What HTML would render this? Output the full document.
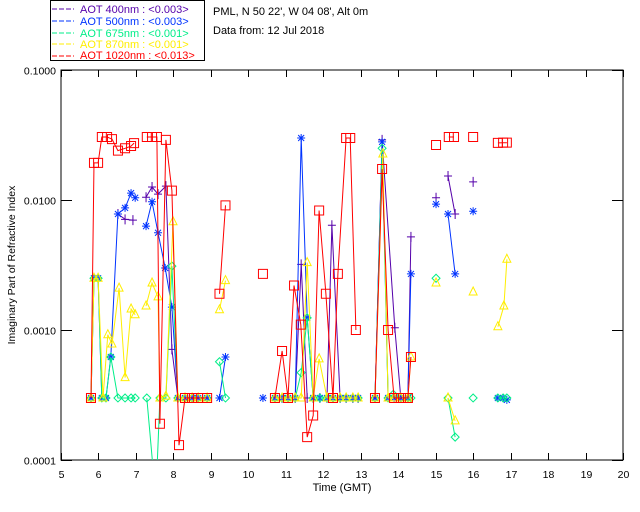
<!DOCTYPE html>
<html><head><meta charset="utf-8"><style>
body{margin:0;background:#fff;}
svg{display:block;font-family:"Liberation Sans",sans-serif;}
</style></head><body>
<svg id="chart" width="640" height="512" viewBox="0 0 640 512" xmlns="http://www.w3.org/2000/svg">
<rect x="0" y="0" width="640" height="512" fill="#fff"/>
<g font-size="11">
<rect x="50.5" y="0.5" width="154" height="60" fill="none" stroke="#000"/>
<g><line x1="52" y1="9" x2="74" y2="9" stroke="#5500aa" stroke-dasharray="5,2"/><text x="80" y="13" fill="#5500aa">AOT  400nm : &lt;0.003&gt;</text></g>
<g><line x1="52" y1="21" x2="74" y2="21" stroke="#0033ff" stroke-dasharray="5,2"/><text x="80" y="25" fill="#0033ff">AOT  500nm : &lt;0.003&gt;</text></g>
<g><line x1="52" y1="33" x2="74" y2="33" stroke="#00ee88" stroke-dasharray="5,2"/><text x="80" y="37" fill="#00ee88">AOT  675nm : &lt;0.001&gt;</text></g>
<g><line x1="52" y1="44" x2="74" y2="44" stroke="#ffee00" stroke-dasharray="5,2"/><text x="80" y="48" fill="#ffee00">AOT  870nm : &lt;0.001&gt;</text></g>
<g><line x1="52" y1="56" x2="74" y2="56" stroke="#ff0000" stroke-dasharray="5,2"/><text x="80" y="59" fill="#ff0000">AOT 1020nm : &lt;0.013&gt;</text></g>
</g>
<text x="213" y="15" font-size="11">PML, N 50 22', W 04 08', Alt 0m</text>
<text x="213" y="34" font-size="11">Data from: 12 Jul 2018</text>
<rect x="61" y="70" width="562" height="390" fill="none" stroke="#000"/>
<g id="axes"></g>
<g id="series"></g>
<text x="342" y="491" font-size="11" text-anchor="middle">Time (GMT)</text>
<text transform="translate(15,265) rotate(-90)" font-size="10.5" text-anchor="middle">Imaginary Part of Refractive Index</text>
</svg>
<script>
const xTicks=[5,6,7,8,9,10,11,12,13,14,15,16,17,18,19,20];
const yTicks=[0.1,0.01,0.001,0.0001];
const yTickLabels=["0.1000","0.0100","0.0010","0.0001"];
const t400=[6.52,6.71,6.92,null,7.27,7.43,7.59,7.80,7.96,8.12,null,10.71,10.90,11.06,11.25,11.41,11.57,11.73,11.91,12.10,12.23,12.45,12.61,12.79,12.93,null,13.38,13.57,13.91,14.07,14.26,14.34,null,15.01,null,15.33,15.52,null,16.0];
const v400=[0.0078,0.0071,0.0070,null,0.0105,0.0126,0.0111,0.0128,0.00071,0.0003,null,0.0003,0.0003,0.0003,0.0003,0.0032,0.0003,0.0003,0.0003,0.0003,0.0064,0.0003,0.0003,0.0003,0.0003,null,0.0003,0.029,0.00104,0.0003,0.0003,0.0052,null,0.0104,null,0.0153,0.0078,null,0.0138];
const t500=[5.80,5.88,5.99,6.09,6.20,6.33,6.52,6.71,6.87,6.98,null,7.27,7.43,7.59,7.78,7.96,8.12,8.31,8.50,8.66,8.90,null,9.23,9.39,null,10.39,null,10.71,10.90,11.06,11.25,11.41,11.57,11.73,11.91,12.10,12.26,12.45,12.61,12.79,12.93,null,13.38,13.57,13.73,13.89,14.07,14.26,14.34,null,15.01,null,15.33,15.52,null,16.0,null,16.66,16.80,16.90];
const v500=[0.0003,0.0025,0.0025,0.0003,0.0003,0.00062,0.0078,0.0087,0.0113,0.0104,null,0.0063,0.0097,0.0056,0.0030,0.0015,0.0003,0.0003,0.0003,0.0003,0.0003,null,0.0003,0.00062,null,0.0003,null,0.0003,0.0003,0.0003,0.0003,0.030,0.00124,0.0003,0.0003,0.0003,0.0003,0.0003,0.0003,0.0003,0.0003,null,0.0003,0.028,0.0003,0.0003,0.0003,0.0003,0.0027,null,0.0093,null,0.0078,0.0027,null,0.0082,null,0.0003,0.0003,0.00029];
const t675=[5.80,5.88,5.99,6.09,6.20,6.33,6.52,6.71,6.87,6.98,null,7.29,7.53,7.64,7.80,7.96,8.12,8.31,8.50,8.66,8.90,null,9.23,9.39,null,10.71,10.90,11.06,11.25,11.41,11.57,11.73,11.91,12.10,12.26,12.45,12.61,12.79,12.93,null,13.38,13.57,13.73,13.87,14.07,14.26,14.34,null,15.01,null,15.33,15.52,null,16.0,null,16.66,16.80,16.90];
const v675=[0.0003,0.0025,0.0025,0.0003,0.0003,0.00062,0.0003,0.0003,0.0003,0.0003,null,0.0003,0.00005,0.0003,0.0003,0.0031,0.0003,0.0003,0.0003,0.0003,0.0003,null,0.00057,0.0003,null,0.0003,0.0003,0.0003,0.0003,0.00047,0.00124,0.0003,0.0003,0.0003,0.0003,0.0003,0.0003,0.0003,0.0003,null,0.0003,0.025,0.0003,0.00032,0.0003,0.0003,0.0003,null,0.0025,null,0.0003,0.00015,null,0.0003,null,0.0003,0.0003,0.0003];
const t870=[5.80,5.88,5.99,6.12,6.25,6.36,6.55,6.71,6.87,6.98,null,7.27,7.43,7.59,7.64,7.80,7.99,8.12,8.31,8.50,8.66,8.90,null,9.23,9.39,null,10.71,10.90,11.06,11.25,11.41,11.57,11.73,11.89,12.10,12.26,12.45,12.61,12.79,12.93,null,13.38,13.59,13.73,13.89,14.07,14.26,14.34,null,15.01,null,15.33,15.52,null,16.0,null,16.66,16.82,16.90];
const v870=[0.0003,0.0025,0.0025,0.0003,0.00092,0.00078,0.0021,0.00043,0.00145,0.00131,null,0.00153,0.0023,0.0018,0.0003,0.00031,0.0068,0.0003,0.0003,0.0003,0.0003,0.0003,null,0.00143,0.0024,null,0.0003,0.0003,0.0003,0.0003,0.0003,0.0033,0.0003,0.0006,0.0003,0.0003,0.0003,0.0003,0.0003,0.0003,null,0.0003,0.0226,0.0003,0.0003,0.0003,0.0003,0.00062,null,0.0023,null,0.0003,0.0002,null,0.00196,null,0.00106,0.00153,0.0035];
const t1020=[5.80,5.88,5.99,6.09,6.23,6.36,6.52,6.71,6.87,6.95,null,7.29,7.43,7.56,7.64,7.80,7.96,8.15,8.31,8.50,8.66,8.90,null,9.23,9.39,null,10.39,null,10.71,10.90,11.06,11.22,11.40,11.57,11.73,11.89,12.07,12.26,12.39,12.61,12.72,12.87,null,13.38,13.57,13.73,13.89,14.07,14.26,14.34,null,15.01,null,15.35,15.49,null,16.0,null,16.66,16.80,16.90];
const v1020=[0.0003,0.0193,0.0193,0.0305,0.0305,0.0294,0.024,0.025,0.026,0.0274,null,0.0305,0.0305,0.0305,0.00019,0.029,0.0118,0.00013,0.0003,0.0003,0.0003,0.0003,null,0.0019,0.0091,null,0.0027,null,0.0003,0.00069,0.0003,0.0022,0.0011,0.00015,0.00022,0.0083,0.0019,0.0003,0.0027,0.030,0.030,0.001,null,0.0003,0.0173,0.001,0.0003,0.0003,0.0003,0.00062,null,0.0265,null,0.0305,0.0305,null,0.0305,null,0.0275,0.0276,0.0276];

const X0=61,X1=623,Y0=460,Y1=70;
function xs(h){return X0+(h-5)*(X1-X0)/15;}
function ys(v){return Y1+(-1-Math.log10(v))*(Y0-Y1)/3;}
const NS="http://www.w3.org/2000/svg";
function mk(tag,attrs,parent){const e=document.createElementNS(NS,tag);for(const k in attrs)e.setAttribute(k,attrs[k]);parent.appendChild(e);return e;}
const axes=document.getElementById('axes');
xTicks.forEach(h=>{
  const x=Math.round(xs(h))+0.5;
  const tb=mk('line',{x1:x,y1:Y0,x2:x,y2:Y0-7,stroke:'#000'},axes);
  
  
  const tt=mk('line',{x1:x,y1:Y1,x2:x,y2:Y1+7,stroke:'#000'},axes);
  
  
  const lb=mk('text',{x:x,y:478,'font-size':10.5,'text-anchor':'middle'},axes);
  lb.textContent=h;
  
  
});
yTicks.forEach((v,i)=>{
  const y=Math.round(ys(v))+0.5;
  const tl=mk('line',{x1:X0,y1:y,x2:X0+11,y2:y,stroke:'#000'},axes);
  
  
  const tr=mk('line',{x1:X1,y1:y,x2:X1-11,y2:y,stroke:'#000'},axes);
  
  
  const lb=mk('text',{x:56,y:y+4,'font-size':10.5,'text-anchor':'end'},axes);
  lb.textContent=yTickLabels[i];
  
  
});
const ser=document.getElementById('series');
const cp=mk('clipPath',{id:'clip'},ser);mk('rect',{x:X0,y:Y1,width:X1-X0,height:Y0-Y1},cp);
function marker(type,x,y,c,g){
  let d='';
  if(type==='plus')d=`M${x-4},${y}H${x+4}M${x},${y-5}V${y+5}`;
  else if(type==='star')d=`M${x-4},${y}H${x+4}M${x},${y-4}V${y+4}M${x-3},${y-3}L${x+3},${y+3}M${x-3},${y+3}L${x+3},${y-3}`;
  else if(type==='diamond')d=`M${x},${y-4}L${x+4},${y}L${x},${y+4}L${x-4},${y}Z`;
  else if(type==='tri')d=`M${x},${y-5}L${x+4},${y+3}L${x-4},${y+3}Z`;
  else d=`M${x-4.5},${y-4.5}h9v9h-9Z`;
  const m=mk('path',{d:d,fill:'none',stroke:c,'stroke-width':1},g);
  
  
}
function draw(name,t,v,color,type){
  const g=mk('g',{'clip-path':'url(#clip)'},ser);
  
  
  let d='',pen=false;
  for(let i=0;i<t.length;i++){
    if(t[i]===null){pen=false;continue;}
    d+=(pen?'L':'M')+xs(t[i]).toFixed(1)+','+ys(v[i]).toFixed(1);pen=true;
  }
  const p=mk('path',{d:d,fill:'none',stroke:color,'stroke-width':1},g);
  
  
  for(let i=0;i<t.length;i++){if(t[i]===null)continue;marker(type,xs(t[i]),ys(v[i]),color,g);}
}
draw('series-400nm',t400,v400,'#5500aa','plus');
draw('series-500nm',t500,v500,'#0033ff','star');
draw('series-675nm',t675,v675,'#00ee88','diamond');
draw('series-870nm',t870,v870,'#ffee00','tri');
draw('series-1020nm',t1020,v1020,'#ff0000','square');
</script>
</body></html>
